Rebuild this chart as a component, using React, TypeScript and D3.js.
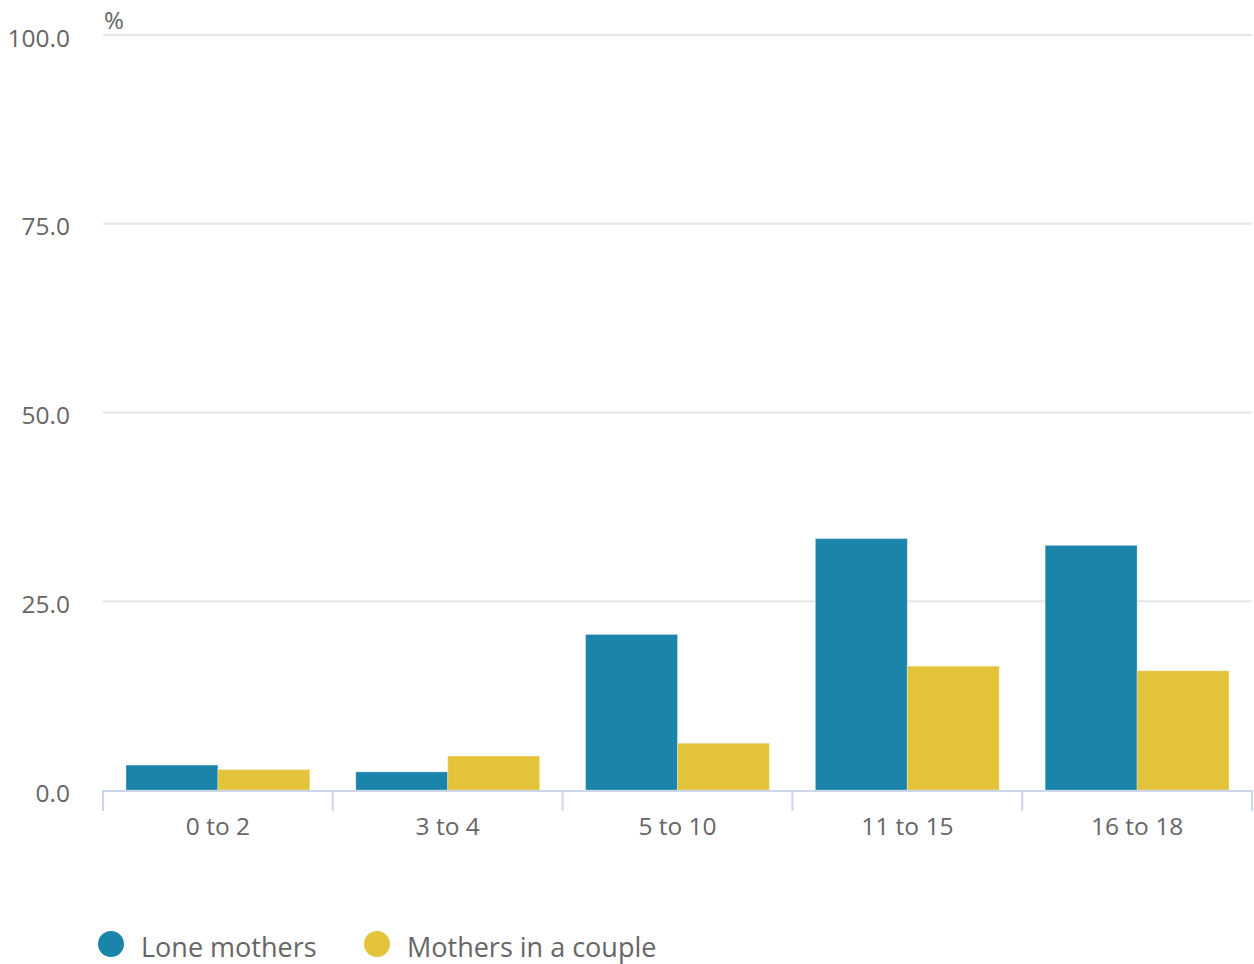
import React from "react";
import * as d3 from "d3";

const categories = ["0 to 2", "3 to 4", "5 to 10", "11 to 15", "16 to 18"];
const seriesNames = ["Lone mothers", "Mothers in a couple"];
const loneMothers = [3.3, 2.4, 20.6, 33.3, 32.4];
const mothersInCouple = [2.7, 4.5, 6.2, 16.4, 15.8];
const yTicks = [0, 25, 50, 75, 100];
const colors = ["#1a84ab", "#e3c33a"];

const W = 1254;
const H = 964;
const left = 103;
const right = 1252;
const top = 35;
const bottom = 790;
const font = "'Open Sans', sans-serif";

export default function App() {
  const x = d3.scaleBand<string>().domain(categories).range([left, right]).paddingInner(0).paddingOuter(0);
  const inner = d3.scaleBand<number>().domain([0, 1]).range([0, x.bandwidth()]).paddingOuter(0.25).paddingInner(0);
  const y = d3.scaleLinear().domain([0, 100]).range([bottom, top]);
  const series = [loneMothers, mothersInCouple];

  return (
    <svg width={W} height={H} style={{ position: "absolute", left: 0, top: 0, background: "#fff" }}>
      {yTicks.map((t) => (
        <g key={t}>
          {t !== 0 && (
            <line x1={left} x2={right} y1={y(t)} y2={y(t)} stroke="#e6e6e6" strokeWidth={2} />
          )}
          <text x={70} y={y(t) + 3} dy="0.35em" textAnchor="end" fontFamily={font} fontSize={24.5} fill="#666">
            {t.toFixed(1)}
          </text>
        </g>
      ))}
      <text x={104} y={29} fontFamily={font} fontSize={24} fill="#666">%</text>
      {categories.map((c, i) =>
        series.map((s, k) => (
          <rect
            key={c + k}
            x={(x(c) as number) + (inner(k) as number)}
            y={y(s[i])}
            width={inner.bandwidth()}
            height={bottom - y(s[i])}
            fill={colors[k]}
            stroke="#fff"
            strokeOpacity={0.3}
            strokeWidth={1}
          />
        ))
      )}
      <line x1={left} x2={right} y1={bottom + 1} y2={bottom + 1} stroke="#ccd6eb" strokeWidth={2} />
      {[...categories.map((c) => x(c) as number), right].map((px, i) => (
        <line key={i} x1={px} x2={px} y1={bottom} y2={bottom + 21} stroke="#ccd6eb" strokeWidth={2} />
      ))}
      {categories.map((c) => (
        <text
          key={c}
          x={(x(c) as number) + x.bandwidth() / 2}
          y={826}
          dy="0.35em"
          textAnchor="middle"
          fontFamily={font}
          fontSize={24.5}
          fill="#666"
        >
          {c}
        </text>
      ))}
      {seriesNames.map((n, k) => {
        const lx = k === 0 ? 111 : 377;
        return (
          <g key={n}>
            <circle cx={lx} cy={944} r={13} fill={colors[k]} />
            <text x={lx + 30} y={948} dy="0.35em" fontFamily={font} fontSize={27} fill="#666">
              {n}
            </text>
          </g>
        );
      })}
    </svg>
  );
}
